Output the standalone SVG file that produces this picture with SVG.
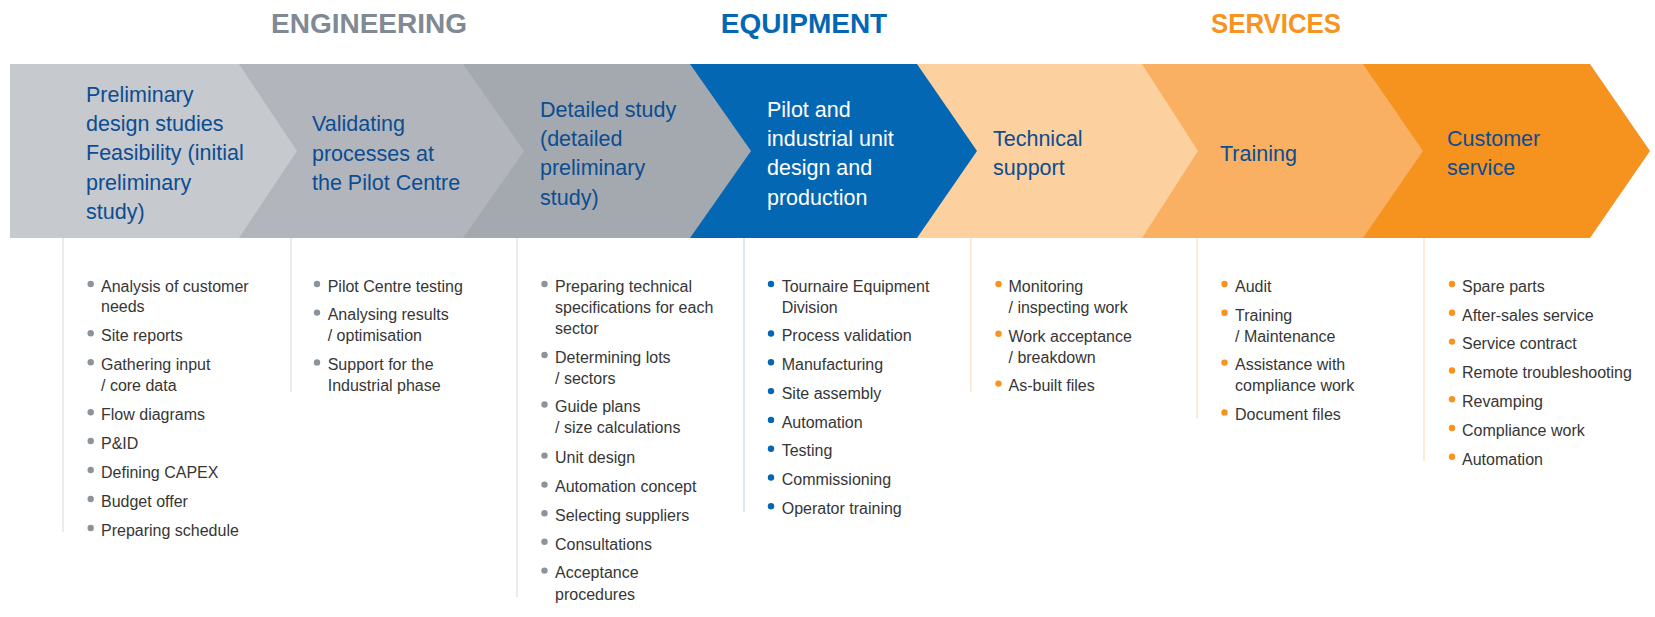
<svg xmlns="http://www.w3.org/2000/svg" width="1655" height="617" viewBox="0 0 1655 617">
<style>
.title{font-family:"Liberation Sans",Arial,sans-serif;font-weight:bold;font-size:28px;text-anchor:middle}
.lab{font-family:"Liberation Sans",Arial,sans-serif;font-size:21.5px;fill:#0c4d92}
.labw{fill:#ffffff}
.li{font-family:"Liberation Sans",Arial,sans-serif;font-size:16px;fill:#363636}
.dg{fill:#8c939b}.db{fill:#0467b3}.do{fill:#f7931e}
circle{r:3.2px}
.vg{stroke:#e2e4e7;stroke-width:1.5}.vb{stroke:#d3e0ee;stroke-width:1.5}.vo{stroke:#fde5ca;stroke-width:1.5}
</style>
<rect width="1655" height="617" fill="#ffffff"/>
<g id="titles">
<text class="title" x="369" y="33" fill="#7f8a94">ENGINEERING</text>
<text class="title" x="804" y="33" fill="#0467b3">EQUIPMENT</text>
<text class="title" x="1276" y="33" fill="#f7931e" textLength="130" lengthAdjust="spacingAndGlyphs">SERVICES</text>
</g>
<g id="connectors"/>
<g id="stage7">
<polygon points="1363,64 1590,64 1650,151 1590,238 1363,238" fill="#f6921e"/>
<text class="lab" x="1447" y="146">Customer<tspan x="1447" dy="29.3">service</tspan></text>
<line class="vo" x1="1424" y1="238" x2="1424" y2="461"/>
<g class="li">
<circle class="do" cx="1452" cy="284" r="3.2"/><text x="1462" y="291.7">Spare parts</text>
<circle class="do" cx="1452" cy="312.8" r="3.2"/><text x="1462" y="320.5">After-sales service</text>
<circle class="do" cx="1452" cy="341.6" r="3.2"/><text x="1462" y="349.3">Service contract</text>
<circle class="do" cx="1452" cy="370.4" r="3.2"/><text x="1462" y="378.1">Remote troubleshooting</text>
<circle class="do" cx="1452" cy="399.2" r="3.2"/><text x="1462" y="406.9">Revamping</text>
<circle class="do" cx="1452" cy="428" r="3.2"/><text x="1462" y="435.7">Compliance work</text>
<circle class="do" cx="1452" cy="456.8" r="3.2"/><text x="1462" y="464.5">Automation</text>
</g>
</g>
<g id="stage6">
<polygon points="1142,64 1363,64 1423,151 1363,238 1142,238" fill="#f9b062"/>
<text class="lab" x="1220" y="160.6">Training</text>
<line class="vo" x1="1197" y1="238" x2="1197" y2="419"/>
<g class="li">
<circle class="do" cx="1224.5" cy="284" r="3.2"/><text x="1235" y="291.7">Audit</text>
<circle class="do" cx="1224.5" cy="312.8" r="3.2"/><text x="1235" y="320.5">Training<tspan x="1235" dy="21">/ Maintenance</tspan></text>
<circle class="do" cx="1224.5" cy="362.6" r="3.2"/><text x="1235" y="370.3">Assistance with<tspan x="1235" dy="21">compliance work</tspan></text>
<circle class="do" cx="1224.5" cy="412.4" r="3.2"/><text x="1235" y="420.1">Document files</text>
</g>
</g>
<g id="stage5">
<polygon points="917,64 1142,64 1198,151 1142,238 917,238" fill="#fdd09f"/>
<text class="lab" x="993" y="146">Technical<tspan x="993" dy="29.3">support</tspan></text>
<line class="vo" x1="971" y1="238" x2="971" y2="392"/>
<g class="li">
<circle class="do" cx="998.5" cy="284" r="3.2"/><text x="1008.5" y="291.7">Monitoring<tspan x="1008.5" dy="21">/ inspecting work</tspan></text>
<circle class="do" cx="998.5" cy="333.8" r="3.2"/><text x="1008.5" y="341.5">Work acceptance<tspan x="1008.5" dy="21">/ breakdown</tspan></text>
<circle class="do" cx="998.5" cy="383.6" r="3.2"/><text x="1008.5" y="391.3">As-built files</text>
</g>
</g>
<g id="stage4">
<polygon points="690,64 917,64 977,151 917,238 690,238" fill="#0467b3"/>
<text class="lab labw" x="767" y="116.7">Pilot and<tspan x="767" dy="29.3">industrial unit</tspan><tspan x="767" dy="29.3">design and</tspan><tspan x="767" dy="29.3">production</tspan></text>
<line class="vb" x1="744" y1="238" x2="744" y2="512"/>
<g class="li">
<circle class="db" cx="771" cy="284" r="3.2"/><text x="781.7" y="291.7">Tournaire Equipment<tspan x="781.7" dy="21">Division</tspan></text>
<circle class="db" cx="771" cy="333.5" r="3.2"/><text x="781.7" y="341.2">Process validation</text>
<circle class="db" cx="771" cy="362.3" r="3.2"/><text x="781.7" y="370">Manufacturing</text>
<circle class="db" cx="771" cy="391.1" r="3.2"/><text x="781.7" y="398.8">Site assembly</text>
<circle class="db" cx="771" cy="419.9" r="3.2"/><text x="781.7" y="427.6">Automation</text>
<circle class="db" cx="771" cy="448.7" r="3.2"/><text x="781.7" y="456.4">Testing</text>
<circle class="db" cx="771" cy="477.5" r="3.2"/><text x="781.7" y="485.2">Commissioning</text>
<circle class="db" cx="771" cy="506.3" r="3.2"/><text x="781.7" y="514">Operator training</text>
</g>
</g>
<g id="stage3">
<polygon points="463,64 690,64 751,151 690,238 463,238" fill="#a4a9af"/>
<text class="lab" x="540" y="116.7">Detailed study<tspan x="540" dy="29.3">(detailed</tspan><tspan x="540" dy="29.3">preliminary</tspan><tspan x="540" dy="29.3">study)</tspan></text>
<line class="vg" x1="517" y1="238" x2="517" y2="597"/>
<g class="li">
<circle class="dg" cx="544.5" cy="284" r="3.2"/><text x="555" y="291.7">Preparing technical<tspan x="555" dy="21">specifications for each</tspan><tspan x="555" dy="21">sector</tspan></text>
<circle class="dg" cx="544.5" cy="355" r="3.2"/><text x="555" y="362.7">Determining lots<tspan x="555" dy="21">/ sectors</tspan></text>
<circle class="dg" cx="544.5" cy="404.5" r="3.2"/><text x="555" y="412.2">Guide plans<tspan x="555" dy="21">/ size calculations</tspan></text>
<circle class="dg" cx="544.5" cy="455.6" r="3.2"/><text x="555" y="463.3">Unit design</text>
<circle class="dg" cx="544.5" cy="484.6" r="3.2"/><text x="555" y="492.3">Automation concept</text>
<circle class="dg" cx="544.5" cy="513.2" r="3.2"/><text x="555" y="520.9">Selecting suppliers</text>
<circle class="dg" cx="544.5" cy="541.8" r="3.2"/><text x="555" y="549.5">Consultations</text>
<circle class="dg" cx="544.5" cy="570.6" r="3.2"/><text x="555" y="578.3">Acceptance<tspan x="555" dy="21.5">procedures</tspan></text>
</g>
</g>
<g id="stage2">
<polygon points="239,64 463,64 524,151 463,238 239,238" fill="#b2b6bc"/>
<text class="lab" x="312" y="131.3">Validating<tspan x="312" dy="29.3">processes at</tspan><tspan x="312" dy="29.3">the Pilot Centre</tspan></text>
<line class="vg" x1="291" y1="238" x2="291" y2="392"/>
<g class="li">
<circle class="dg" cx="317" cy="284" r="3.2"/><text x="327.7" y="291.7">Pilot Centre testing</text>
<circle class="dg" cx="317" cy="312.6" r="3.2"/><text x="327.7" y="320.3">Analysing results<tspan x="327.7" dy="21">/ optimisation</tspan></text>
<circle class="dg" cx="317" cy="362.4" r="3.2"/><text x="327.7" y="370.1">Support for the<tspan x="327.7" dy="21">Industrial phase</tspan></text>
</g>
</g>
<g id="stage1">
<polygon points="10,64 239,64 297,151 239,238 10,238" fill="#c6c9ce"/>
<text class="lab" x="86" y="101.7">Preliminary<tspan x="86" dy="29.3">design studies</tspan><tspan x="86" dy="29.3">Feasibility (initial</tspan><tspan x="86" dy="29.3">preliminary</tspan><tspan x="86" dy="29.3">study)</tspan></text>
<line class="vg" x1="63" y1="238" x2="63" y2="532"/>
<g class="li">
<circle class="dg" cx="90.7" cy="284" r="3.2"/><text x="101" y="291.7">Analysis of customer<tspan x="101" dy="20.5">needs</tspan></text>
<circle class="dg" cx="90.7" cy="333.3" r="3.2"/><text x="101" y="341">Site reports</text>
<circle class="dg" cx="90.7" cy="362.3" r="3.2"/><text x="101" y="370">Gathering input<tspan x="101" dy="21">/ core data</tspan></text>
<circle class="dg" cx="90.7" cy="412.3" r="3.2"/><text x="101" y="420">Flow diagrams</text>
<circle class="dg" cx="90.7" cy="441" r="3.2"/><text x="101" y="448.7">P&amp;ID</text>
<circle class="dg" cx="90.7" cy="470" r="3.2"/><text x="101" y="477.7">Defining CAPEX</text>
<circle class="dg" cx="90.7" cy="499" r="3.2"/><text x="101" y="506.7">Budget offer</text>
<circle class="dg" cx="90.7" cy="528" r="3.2"/><text x="101" y="535.7">Preparing schedule</text>
</g>
</g>
</svg>
